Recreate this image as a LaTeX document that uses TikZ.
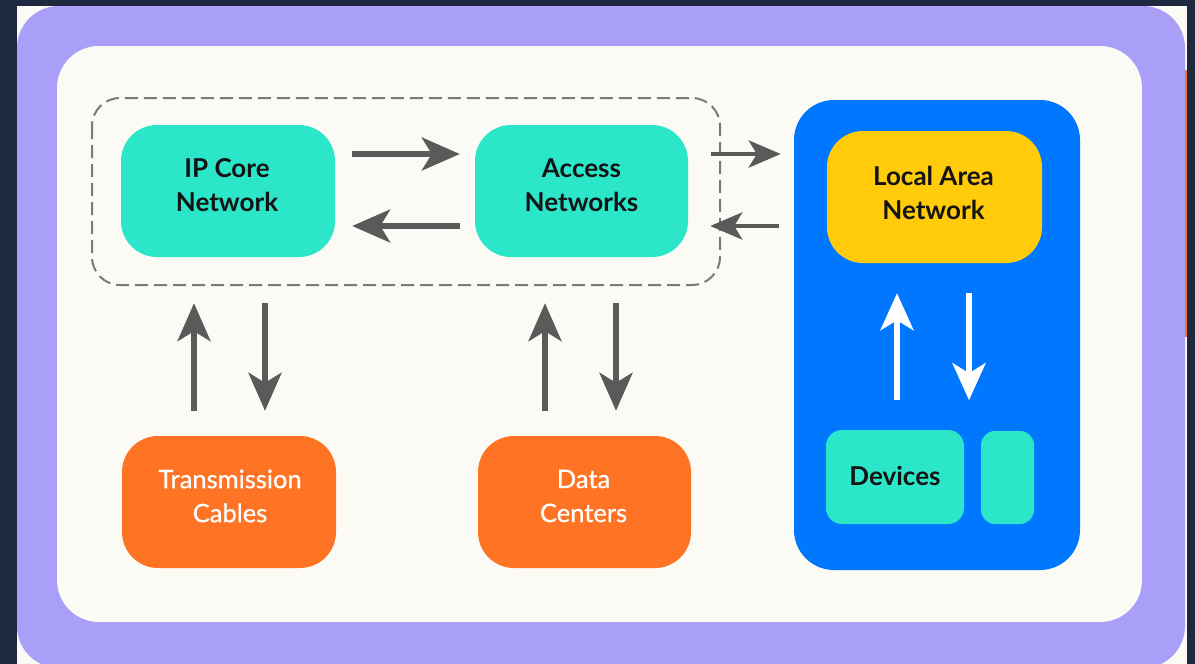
\documentclass[tikz,border=0pt]{standalone}
\usepackage{fontspec}
\setmainfont{Lato}
\usetikzlibrary{arrows.meta,calc}

\definecolor{pagebg}{HTML}{1E2940}
\definecolor{frame}{HTML}{A99EF8}
\definecolor{paper}{HTML}{FBFAF5}
\definecolor{teal}{HTML}{2BE6C8}
\definecolor{lanblue}{HTML}{0077FF}
\definecolor{lanyellow}{HTML}{FFCB0A}
\definecolor{infraorange}{HTML}{FF7424}
\definecolor{arrgray}{HTML}{5A5A5A}
\definecolor{dashgray}{HTML}{7A7A7A}

\tikzset{
  box/.style={rounded corners=36pt, minimum width=214pt, minimum height=132pt,
    inner sep=0pt},
  tealbox/.style={box, fill=teal},
  orangebox/.style={box, fill=infraorange},
  darktext/.style={inner sep=0pt, align=center, text=black!92,
    font=\fontsize{26}{34}\selectfont\bfseries},
  lighttext/.style={inner sep=0pt, align=center, text=white,
    font=\fontsize{25.5}{34}\selectfont\addfontfeature{FakeBold=0.6}},
  garr/.style={draw=arrgray, line width=5.5pt,
    -{Stealth[length=38pt,width=33pt,inset=10pt]}},
  sgarr/.style={draw=arrgray, line width=4.5pt,
    -{Stealth[length=32pt,width=27pt,inset=8pt]}},
  warr/.style={draw=white, line width=6pt,
    -{Stealth[length=37pt,width=33pt,inset=10pt]}},
}

\begin{document}
\begin{tikzpicture}[x=1pt,y=-1pt]
  % page and frame
  \useasboundingbox (0,0) rectangle (1195,664);
  \fill[pagebg] (0,0) rectangle (1195,664);
  \fill[paper] (17,6) rectangle (1187,664);
  \fill[frame, rounded corners=42pt] (17,6) rectangle (1185,668);
  \fill[infraorange] (1185,70) rectangle (1187,337);
  \fill[paper, rounded corners=42pt] (57,46) rectangle (1142,622);

  % grouping of the wide-area part
  \draw[dashgray, line width=2pt, dash pattern=on 13pt off 6pt,
        rounded corners=28pt] (92,98) rectangle (720,285);

  % local area network panel
  \node[fill=lanblue, rounded corners=40pt, minimum width=286pt,
        minimum height=470pt, inner sep=0pt] (lan) at (937,335) {};

  % boxes
  \node[tealbox] (core) at (228,191) {};
  \node[tealbox, minimum width=213pt] (access) at (581.5,191) {};
  \node[orangebox] (cables) at (229,502) {};
  \node[orangebox, minimum width=213pt] (dc) at (584.5,502) {};
  \node[box, fill=lanyellow, minimum width=215pt] (lanbox) at (934.5,197) {};
  \node[box, fill=teal, rounded corners=16pt, minimum width=138pt,
        minimum height=94pt] (devices) at (895,477) {};
  \node[fill=teal, rounded corners=14pt, minimum width=53pt,
        minimum height=93pt, inner sep=0pt] (device2) at (1007.5,477.5) {};

  % labels
  \node[darktext] (core-t) at ($(core.center)+(-1,-6)$) {IP Core\\Network};
  \node[darktext] (access-t) at ($(access.center)+(0,-6)$) {Access\\Networks};
  \node[lighttext] (cables-t) at ($(cables.center)+(1,-6)$) {Transmission\\Cables};
  \node[lighttext] (dc-t) at ($(dc.center)+(-1,-6)$) {Data\\Centers};
  \node[darktext] (lanbox-t) at ($(lanbox.center)+(-1,-4)$) {Local Area\\Network};
  \node[darktext] (devices-t) at ($(devices.center)+(0,-1)$) {Devices};

  % core <-> access
  \draw[garr] ($(core.east)+(17,-37)$) -- ($(access.west)+(-15,-37)$);
  \draw[garr] ($(access.west)+(-15,35)$) -- ($(core.east)+(17,35)$);

  % access <-> local area network
  \draw[sgarr] ($(access.east)+(23,-37)$) -- ($(lan.west |- access.east)+(-13,-37)$);
  \draw[sgarr] ($(lan.west |- access.east)+(-15,35)$) -- ($(access.east)+(22,35)$);

  % cables <-> core
  \draw[garr] ($(cables.north)+(-35,-25)$) -- ($(core.south)+(-34,46)$);
  \draw[garr] ($(core.south)+(37,46)$) -- ($(cables.north)+(36,-25)$);

  % data centers <-> access
  \draw[garr] ($(dc.north)+(-39.5,-25)$) -- ($(access.south)+(-36.5,46)$);
  \draw[garr] ($(access.south)+(34.5,46)$) -- ($(dc.north)+(31.5,-25)$);

  % devices <-> local area network
  \draw[warr] ($(lanbox.south)+(-37.5,137)$) -- ($(lanbox.south)+(-37.5,30)$);
  \draw[warr] ($(lanbox.south)+(34.5,30)$) -- ($(lanbox.south)+(34.5,137)$);
\end{tikzpicture}
\end{document}
